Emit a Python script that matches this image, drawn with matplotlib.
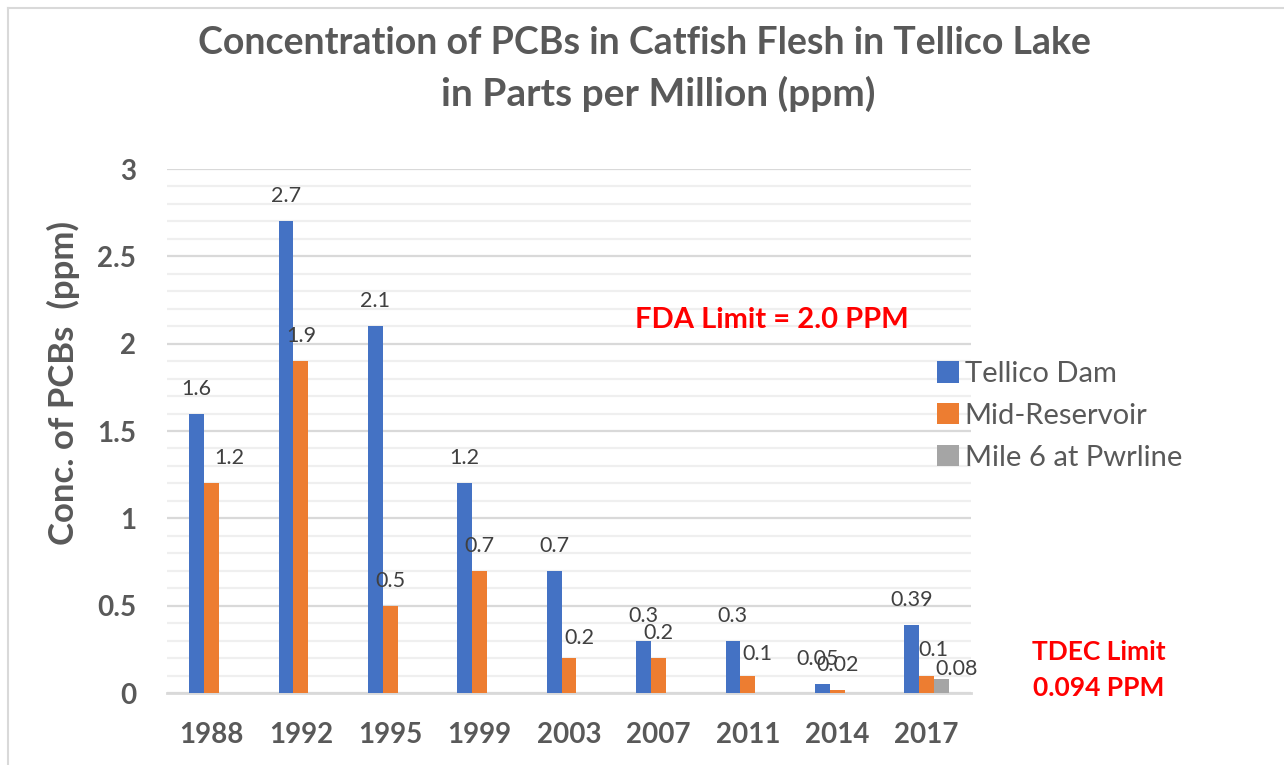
import numpy as np
import matplotlib
matplotlib.use("Agg")
import matplotlib.pyplot as plt
from matplotlib.lines import Line2D
from matplotlib.ticker import MultipleLocator

# ---------------- data ----------------
years = ["1988", "1992", "1995", "1999", "2003", "2007", "2011", "2014", "2017"]
tellico_dam = [1.6, 2.7, 2.1, 1.2, 0.7, 0.3, 0.3, 0.05, 0.39]
mid_reservoir = [1.2, 1.9, 0.5, 0.7, 0.2, 0.2, 0.1, 0.02, 0.1]
mile6_pwrline = [np.nan, np.nan, np.nan, np.nan, np.nan, np.nan, np.nan, np.nan, 0.08]
series_names = ["Tellico Dam", "Mid-Reservoir", "Mile 6 at Pwrline"]

title_lines = ["Concentration of PCBs in Catfish Flesh in Tellico Lake",
               "in Parts per Million (ppm)"]
y_label = "Conc. of PCBs  (ppm)"
fda_note = "FDA Limit = 2.0 PPM"
tdec_note = ["TDEC Limit", "0.094 PPM"]

# ---------------- style ----------------
W, H = 1284, 765
FONT = "Lato"
GRAY_TXT = "#595959"
LBL_TXT = "#404040"
colors = ["#4472C4", "#ED7D31", "#A5A5A5"]

plt.rcParams["font.family"] = [FONT, "DejaVu Sans"]

fig = plt.figure(figsize=(W / 100, H / 100), dpi=100)
fig.patch.set_facecolor("white")

def fx(px):
    return px / W

def fy(py):
    return 1 - py / H

ax_left, ax_right, ax_top, ax_bottom = 166.8, 971.2, 169, 693
ax = fig.add_axes([fx(ax_left), fy(ax_bottom), fx(ax_right - ax_left), (ax_bottom - ax_top) / H])

x = np.arange(len(years))
bw = 0.166
all_series = [tellico_dam, mid_reservoir, mile6_pwrline]
containers = []
for i, (vals, col, name) in enumerate(zip(all_series, colors, series_names)):
    c = ax.bar(x + (i - 1) * bw, vals, width=bw, color=col, label=name, zorder=3)
    containers.append(c)

# data labels (pixel offsets from bar top-center)
default_off = (0, 25)
special_off = {(1, 0): (18, 25), (1, 4): (10, 20), (1, 6): (10, 22),
               (0, 7): (-5, 25), (1, 8): (7, 26), (2, 8): (15, 10)}
for si, vals in enumerate(all_series):
    for ci, v in enumerate(vals):
        if v is None or (isinstance(v, float) and np.isnan(v)):
            continue
        dx, dy = special_off.get((si, ci), default_off)
        ax.annotate(f"{v:g}", xy=(x[ci] + (si - 1) * bw, v),
                    xytext=(dx * 0.72, dy * 0.72), textcoords="offset points",
                    ha="center", va="center", fontsize=15.5, color=LBL_TXT, zorder=5)

ax.set_xlim(-0.5, len(years) - 0.5)
ax.set_ylim(0, 3)
ax.yaxis.set_major_locator(MultipleLocator(0.5))
ax.yaxis.set_minor_locator(MultipleLocator(0.1))
ax.set_yticks([0, 0.5, 1, 1.5, 2, 2.5, 3])
ax.set_yticklabels(["0", "0.5", "1", "1.5", "2", "2.5", "3"])
ax.set_xticks(x)
ax.set_xticklabels(years)
ax.grid(axis="y", which="major", color="#D9D9D9", lw=1.6, zorder=0)
ax.grid(axis="y", which="minor", color="#EFEFEF", lw=1.6, zorder=0)
ax.set_axisbelow(True)
for s in ["top", "right", "left"]:
    ax.spines[s].set_visible(False)
ax.spines["bottom"].set_color("#D9D9D9")
ax.spines["bottom"].set_linewidth(2)
ax.tick_params(axis="both", which="both", length=0)
ax.tick_params(axis="y", pad=22, labelsize=20, labelcolor=GRAY_TXT)
ax.tick_params(axis="x", pad=21, labelsize=20, labelcolor=GRAY_TXT)
for t in ax.get_xticklabels() + ax.get_yticklabels():
    t.set_fontweight("bold")

# title
fig.text(fx(644), fy(43), title_lines[0], ha="center", va="center",
         fontsize=27, fontweight="bold", color=GRAY_TXT)
fig.text(fx(658), fy(94), title_lines[1], ha="center", va="center",
         fontsize=28, fontweight="bold", color=GRAY_TXT)

# y label
fig.text(fx(63), fy(383), y_label, rotation=90, ha="center", va="center",
         fontsize=25, fontweight="bold", color=GRAY_TXT)

# notes
fig.text(fx(772), fy(320), fda_note, ha="center", va="center",
         fontsize=21, fontweight="bold", color="#FF0000")
fig.text(fx(1099), fy(652), tdec_note[0], ha="center", va="center",
         fontsize=19, fontweight="bold", color="#FF0000")
fig.text(fx(1099), fy(688), tdec_note[1], ha="center", va="center",
         fontsize=19, fontweight="bold", color="#FF0000")

# legend
leg = fig.legend(handles=containers, labels=series_names, loc="upper left",
                 bbox_to_anchor=(fx(937), fy(361)), frameon=False, fontsize=21,
                 handlelength=0.75, handleheight=0.75, handletextpad=0.2,
                 labelspacing=0.54, borderpad=0, borderaxespad=0)
for t in leg.get_texts():
    t.set_color(GRAY_TXT)

# outer border (top & left)
fig.add_artist(Line2D([fx(8), fx(W)], [fy(8), fy(8)], color="#D9D9D9", lw=1.5))
fig.add_artist(Line2D([fx(8), fx(8)], [fy(8), 0], color="#D9D9D9", lw=1.5))

fig.savefig("out.png", dpi=100, facecolor="white")
